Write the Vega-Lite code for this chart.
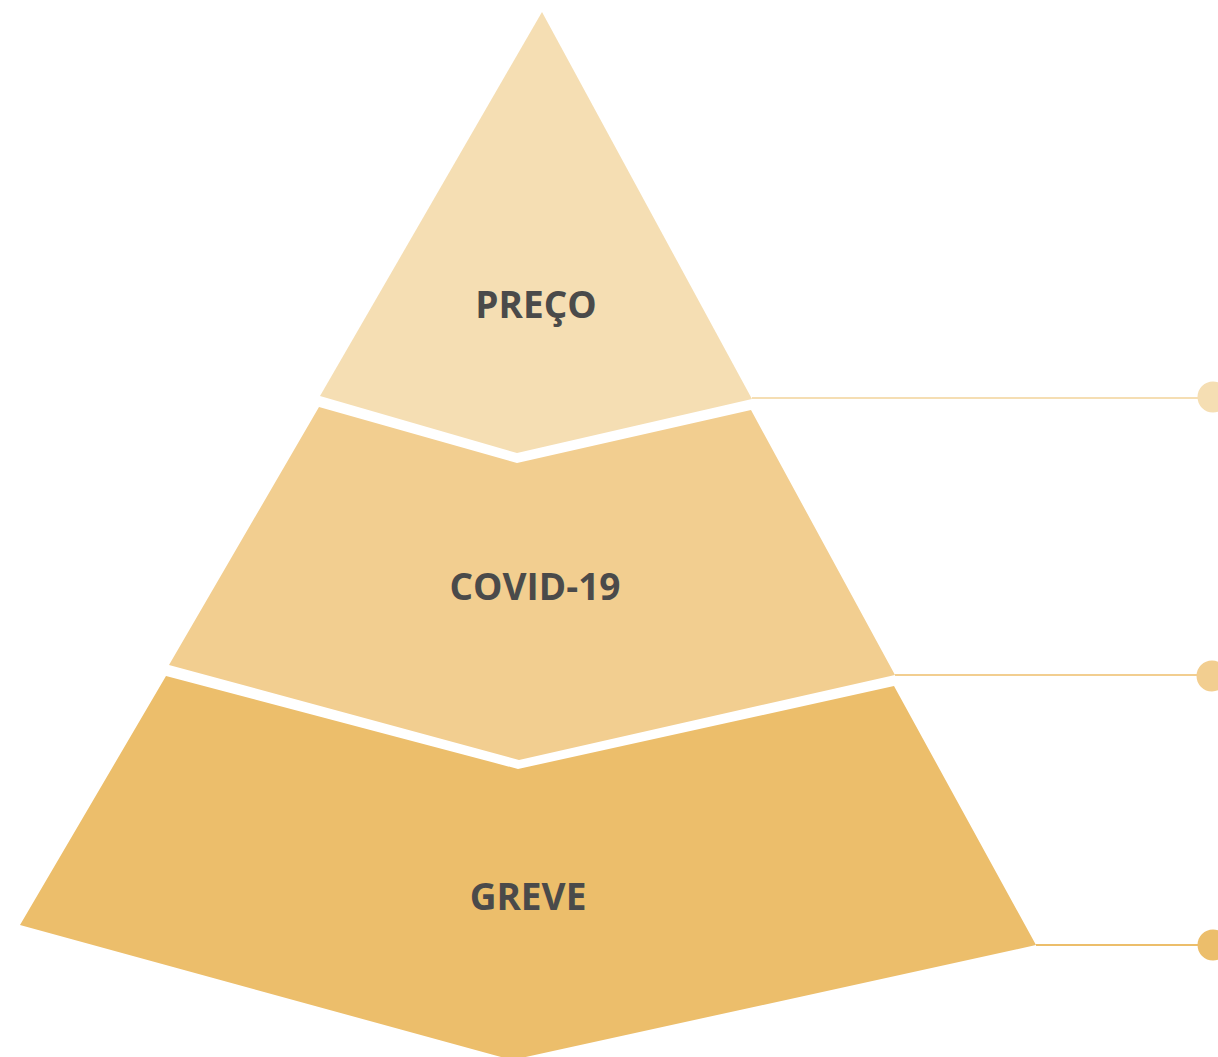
{
  "$schema": "https://vega.github.io/schema/vega-lite/v6.json",
  "width": 1218,
  "height": 1057,
  "autosize": "none",
  "padding": 0,
  "background": "white",
  "config": {"view": {"stroke": null}},
  "datasets": {
    "poly": [
      {"seg": "PREÇO", "o": 1, "x": 542, "y": 12},
      {"seg": "PREÇO", "o": 2, "x": 752, "y": 399},
      {"seg": "PREÇO", "o": 3, "x": 517, "y": 453},
      {"seg": "PREÇO", "o": 4, "x": 320, "y": 396},
      {"seg": "COVID-19", "o": 1, "x": 319, "y": 407},
      {"seg": "COVID-19", "o": 2, "x": 517, "y": 463},
      {"seg": "COVID-19", "o": 3, "x": 751, "y": 410},
      {"seg": "COVID-19", "o": 4, "x": 895, "y": 675},
      {"seg": "COVID-19", "o": 5, "x": 519, "y": 760},
      {"seg": "COVID-19", "o": 6, "x": 169, "y": 665},
      {"seg": "GREVE", "o": 1, "x": 166, "y": 676},
      {"seg": "GREVE", "o": 2, "x": 518, "y": 769},
      {"seg": "GREVE", "o": 3, "x": 894, "y": 686},
      {"seg": "GREVE", "o": 4, "x": 1036, "y": 945},
      {"seg": "GREVE", "o": 5, "x": 512, "y": 1060},
      {"seg": "GREVE", "o": 6, "x": 20, "y": 925}
    ],
    "marks": [
      {"seg": "PREÇO", "lx": 536, "ly": 307, "x1": 752, "x2": 1213, "yl": 398, "cy": 397},
      {"seg": "COVID-19", "lx": 535, "ly": 589, "x1": 895, "x2": 1212, "yl": 675, "cy": 676},
      {"seg": "GREVE", "lx": 528, "ly": 899, "x1": 1036, "x2": 1213, "yl": 945, "cy": 945}
    ]
  },
  "layer": [
    {
      "data": {"name": "poly"},
      "mark": {"type": "line", "filled": true, "interpolate": "linear-closed", "strokeWidth": 0, "clip": true},
      "encoding": {
        "x": {"field": "x", "type": "quantitative", "scale": {"domain": [0, 1218], "nice": false, "zero": false}, "axis": null},
        "y": {"field": "y", "type": "quantitative", "scale": {"domain": [1057, 0], "nice": false, "zero": false}, "axis": null},
        "order": {"field": "o", "type": "quantitative"},
        "color": {"field": "seg", "type": "nominal", "scale": {"domain": ["PREÇO", "COVID-19", "GREVE"], "range": ["#F5DEB3", "#F2CE90", "#ECBE6B"]}, "legend": null}
      }
    },
    {
      "data": {"name": "marks"},
      "mark": {"type": "rule", "strokeWidth": 2},
      "encoding": {
        "x": {"field": "x1", "type": "quantitative"},
        "x2": {"field": "x2"},
        "y": {"field": "yl", "type": "quantitative"},
        "color": {"field": "seg", "type": "nominal", "legend": null}
      }
    },
    {
      "data": {"name": "marks"},
      "mark": {"type": "point", "filled": true, "opacity": 1, "size": 960, "shape": "circle"},
      "encoding": {
        "x": {"field": "x2", "type": "quantitative"},
        "y": {"field": "cy", "type": "quantitative"},
        "color": {"field": "seg", "type": "nominal", "legend": null}
      }
    },
    {
      "data": {"name": "marks"},
      "mark": {"type": "text", "font": "Open Sans", "fontWeight": "bold", "fontSize": 37, "color": "#4A4A4A", "align": "center", "baseline": "middle"},
      "encoding": {
        "x": {"field": "lx", "type": "quantitative"},
        "y": {"field": "ly", "type": "quantitative"},
        "text": {"field": "seg"}
      }
    }
  ]
}
